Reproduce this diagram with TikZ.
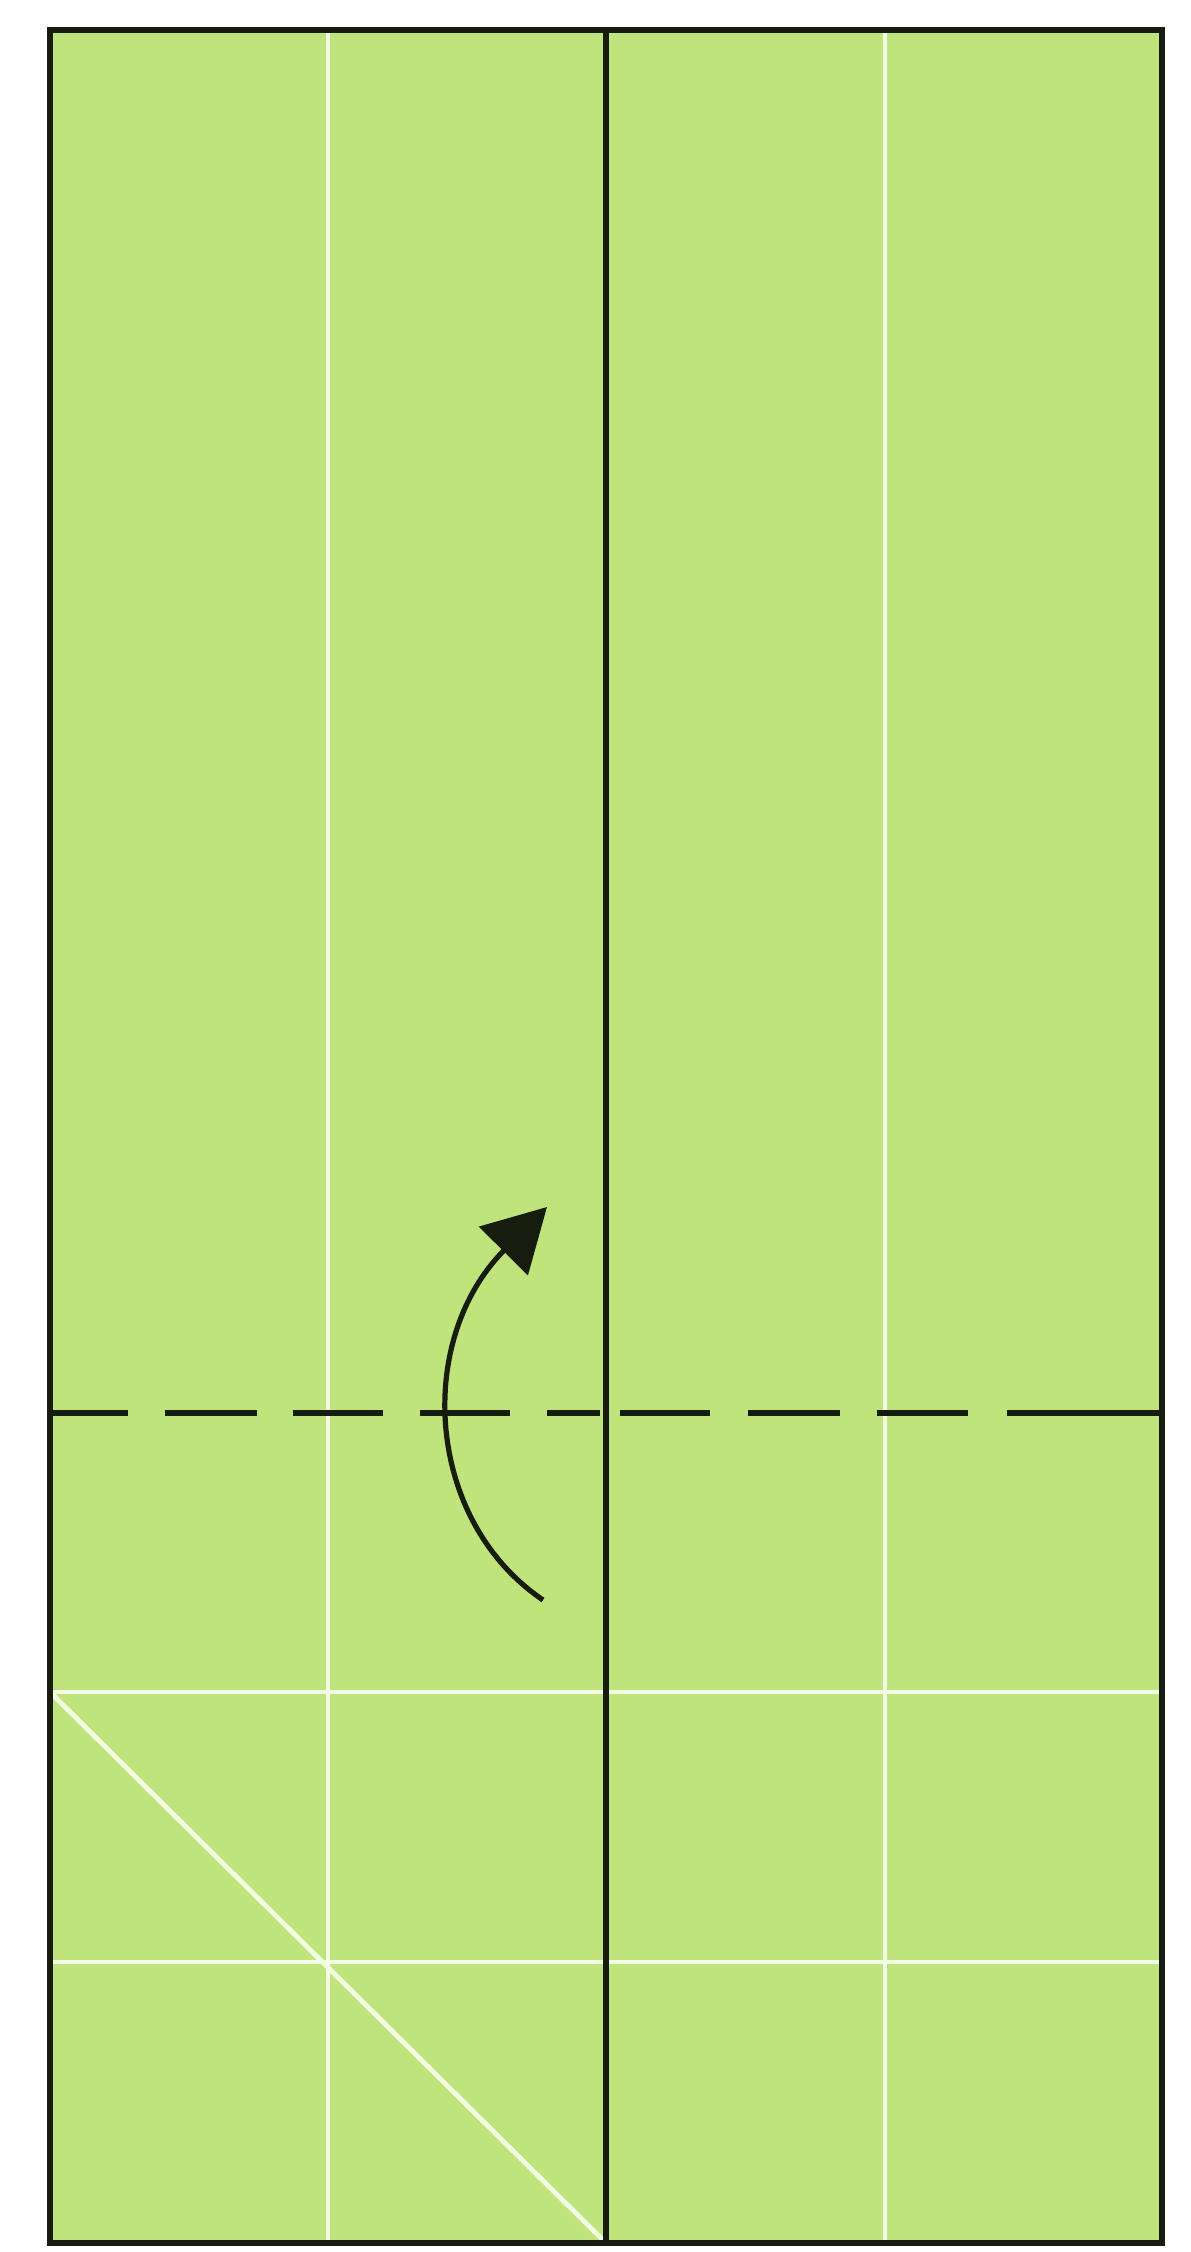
\documentclass[tikz,border=0pt]{standalone}
\usetikzlibrary{arrows.meta}
\definecolor{paper}{RGB}{191,228,124}
\definecolor{crease}{RGB}{242,255,228}
\definecolor{ink}{RGB}{22,28,14}
\tikzset{
  creaseline/.style={draw=crease,line width=2.4pt},
  inkline/.style={draw=ink,line width=3.2pt},
  foldline/.style={draw=ink,line width=3.4pt},
  foldarrow/.style={draw=ink,line width=2.6pt,-{Triangle[length=31pt,width=34pt]}}
}
\begin{document}
\begin{tikzpicture}[x=0.5pt,y=-0.5pt]
\useasboundingbox (0,0) rectangle (1190,2252);
\fill[white] (0,0) rectangle (1190,2252);
% paper corners
\coordinate (tl) at (50,30);
\coordinate (br) at (1162,2243);
\fill[paper] (tl) rectangle (br);
% crease lines
\coordinate (v1t) at (328,30);   \coordinate (v1b) at (328,2243);
\coordinate (v3t) at (885,30);   \coordinate (v3b) at (885,2243);
\coordinate (h1l) at (50,1692);  \coordinate (h1r) at (1162,1692);
\coordinate (h2l) at (50,1962);  \coordinate (h2r) at (1162,1962);
\coordinate (dgs) at (52,1694);  \coordinate (dge) at (606,2243);
\draw[creaseline] (v1t) -- (v1b);
\draw[creaseline] (v3t) -- (v3b);
\draw[creaseline] (h1l) -- (h1r);
\draw[creaseline] (h2l) -- (h2r);
\draw[creaseline] (dgs) -- (dge);
% centre line
\coordinate (ct) at (606,30);
\coordinate (cb) at (606,2243);
\draw[inkline] (ct) -- (cb);
% valley fold (dashed)
\foreach \a/\b in {52/128,165/257,293/383,420/510,547/600,620/710,748/840,877/968,1007/1162}{
  \draw[foldline] (\a,1413) -- (\b,1413);
}
% border
\draw[inkline] (tl) rectangle (br);
% fold arrow
\coordinate (atail) at (543,1600);
\coordinate (atip) at (547,1207);
\draw[foldarrow] (atail) .. controls (425,1520) and (415,1340) .. (atip);
\end{tikzpicture}
\end{document}
